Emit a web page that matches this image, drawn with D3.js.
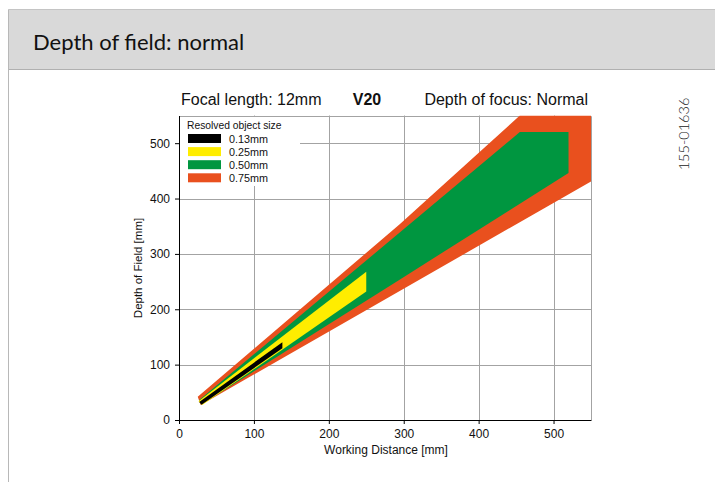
<!DOCTYPE html>
<html><head><meta charset="utf-8">
<script src="https://cdn.jsdelivr.net/npm/d3@7"></script>
<style>body{margin:0;background:#fff}svg{display:block}</style>
</head><body><svg id="c" width="715" height="482"></svg>
<script>
const xTicks = [0, 100, 200, 300, 400, 500];
const yTicks = [0, 100, 200, 300, 400, 500];
const legendTitle = "Resolved object size";
const sizes = ["0.13mm", "0.25mm", "0.50mm", "0.75mm"];
const colors = ["#000000", "#ffed00", "#009640", "#e9501e"];
// regions: [working distance, depth of field]
const region075 = [[25, 42], [295, 354], [455, 550], [550, 550], [550, 431], [29, 27]];
const region050 = [[27, 36], [455, 520], [520, 520], [520, 446], [295, 254], [31, 29]];
const region025 = [[26, 34], [250, 268], [250, 232], [31, 27]];
const region013 = [[27, 32.5], [138, 140.5], [138, 129.5], [30, 27.5]];
const regions = [region075, region050, region025, region013];
const regionColors = [colors[3], colors[2], colors[1], colors[0]];

const svg = d3.select("#c");
const W = 715, H = 482;

// page frame + header
svg.append("rect").attr("x", 8.5).attr("y", 9.5).attr("width", 720).attr("height", 60)
  .attr("fill", "#d9d9d9").attr("stroke", "none");
svg.append("line").attr("x1", 8.5).attr("x2", 715).attr("y1", 9.5).attr("y2", 9.5).attr("stroke", "#c4c4c4");
svg.append("line").attr("x1", 8.5).attr("x2", 715).attr("y1", 69.5).attr("y2", 69.5).attr("stroke", "#b0b0b0");
svg.append("line").attr("x1", 8.5).attr("x2", 8.5).attr("y1", 9.5).attr("y2", H).attr("stroke", "#b8b8b8");
svg.append("text").attr("x", 33).attr("y", 50).attr("font-family", "Lato").attr("font-size", 22)
  .attr("fill", "#111").text("Depth of field: normal");

const x = d3.scaleLinear().domain([0, 550]).range([179, 591]);
const y = d3.scaleLinear().domain([0, 550]).range([420, 115.5]);
const crisp = v => Math.round(v) + 0.5;

// grid
const gridColor = "#a3a3a3";
const g = svg.append("g");
xTicks.filter(d => d > 0).forEach(d => {
  g.append("line").attr("x1", crisp(x(d))).attr("x2", crisp(x(d))).attr("y1", y(0)).attr("y2", y(550))
    .attr("stroke", gridColor);
});
yTicks.filter(d => d > 0).forEach(d => {
  g.append("line").attr("x1", x(0)).attr("x2", x(550)).attr("y1", crisp(y(d))).attr("y2", crisp(y(d)))
    .attr("stroke", gridColor);
});
g.append("line").attr("x1", x(0)).attr("x2", crisp(x(550))).attr("y1", crisp(y(550))).attr("y2", crisp(y(550))).attr("stroke", gridColor);
g.append("line").attr("x1", crisp(x(550))).attr("x2", crisp(x(550))).attr("y1", crisp(y(550))).attr("y2", y(0)).attr("stroke", gridColor);

// clip
svg.append("clipPath").attr("id", "pc").append("rect")
  .attr("x", x(0)).attr("y", y(550)).attr("width", x(550) - x(0)).attr("height", y(0) - y(550));

const line = d3.line().x(d => x(d[0])).y(d => y(d[1]));
const pg = svg.append("g").attr("clip-path", "url(#pc)");
regions.forEach((r, i) => {
  pg.append("path").attr("d", line(r) + "Z").attr("fill", regionColors[i]);
});

// legend
const lg = svg.append("g");
lg.append("rect").attr("x", 180).attr("y", 117).attr("width", 120).attr("height", 69).attr("fill", "#fff");
lg.append("text").attr("x", 187).attr("y", 129).attr("font-family", "Liberation Sans").attr("font-size", 10.3)
  .attr("fill", "#111").text(legendTitle);
sizes.forEach((s, i) => {
  const yy = 134 + i * 13.1;
  lg.append("rect").attr("x", 188).attr("y", yy).attr("width", 33).attr("height", 9).attr("fill", colors[i]);
  lg.append("text").attr("x", 229).attr("y", yy + 8.5).attr("font-family", "Liberation Sans").attr("font-size", 10.8)
    .attr("fill", "#111").text(s);
});

// axes
const ax = svg.append("g").attr("transform", `translate(0,${y(0)})`)
  .call(d3.axisBottom(x).tickValues(xTicks).tickSize(4).tickSizeOuter(0).tickPadding(5));
const ay = svg.append("g").attr("transform", `translate(${x(0)},0)`)
  .call(d3.axisLeft(y).tickValues(yTicks).tickSize(4).tickSizeOuter(0).tickPadding(5));
[ax, ay].forEach(a => {
  a.selectAll("text").attr("font-family", "Liberation Sans").attr("font-size", 12).attr("fill", "#111");
  a.selectAll("line,path").attr("stroke", "#000");
});

svg.append("text").attr("x", 386).attr("y", 454).attr("text-anchor", "middle")
  .attr("font-family", "Liberation Sans").attr("font-size", 12).attr("fill", "#111").text("Working Distance [mm]");
svg.append("text").attr("transform", `translate(142,268) rotate(-90)`).attr("text-anchor", "middle")
  .attr("font-family", "Liberation Sans").attr("font-size", 11.5).attr("fill", "#111").text("Depth of Field [mm]");

// chart header
const hf = "Liberation Sans";
svg.append("text").attr("x", 181).attr("y", 105).attr("font-family", hf).attr("font-size", 16).attr("fill", "#111").text("Focal length: 12mm");
svg.append("text").attr("x", 367).attr("y", 105).attr("text-anchor", "middle").attr("font-family", hf).attr("font-weight", "bold").attr("font-size", 16).attr("fill", "#111").text("V20");
svg.append("text").attr("x", 588).attr("y", 105).attr("text-anchor", "end").attr("font-family", hf).attr("font-size", 16).attr("fill", "#111").text("Depth of focus: Normal");

// side code
svg.append("text").attr("transform", "translate(689,134) rotate(-90)").attr("text-anchor", "middle")
  .attr("font-family", "Lato").attr("font-weight", 300).attr("font-size", 14.5).attr("fill", "#222").text("155-01636");
</script></body></html>
